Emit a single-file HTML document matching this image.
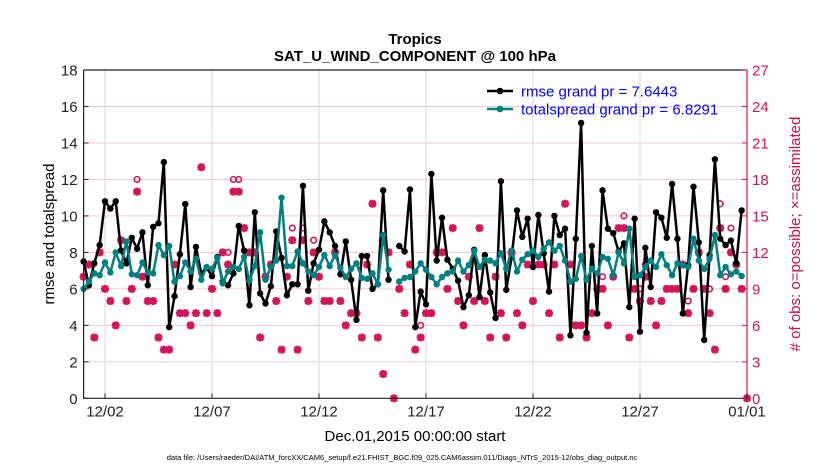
<!DOCTYPE html>
<html><head><meta charset="utf-8"><style>
body{margin:0;background:#fff;}
svg{display:block;font-family:"Liberation Sans",sans-serif;}
</style></head><body>
<svg id="chart" width="830" height="470" xmlns="http://www.w3.org/2000/svg">
<rect width="830" height="470" fill="#fff"/>
<text x="415" y="44" font-size="15" font-weight="bold" text-anchor="middle">Tropics</text>
<text x="415" y="61" font-size="15" font-weight="bold" text-anchor="middle">SAT_U_WIND_COMPONENT @ 100 hPa</text>
<g id="grid"></g>
<g id="marks"></g>
<g id="axes"></g>
<text transform="translate(54,234) rotate(-90)" font-size="15" text-anchor="middle">rmse and totalspread</text>
<text transform="translate(800,234) rotate(-90)" font-size="15" text-anchor="middle" fill="#c8104f"># of obs: o=possible; ×=assimilated</text>
<text x="415" y="441" font-size="15" text-anchor="middle">Dec.01,2015 00:00:00 start</text>
<text x="402" y="460" font-size="7.5" text-anchor="middle">data file: /Users/raeder/DAI/ATM_forcXX/CAM6_setup/f.e21.FHIST_BGC.f09_025.CAM6assim.011/Diags_NTrS_2015-12/obs_diag_output.nc</text>
<g>
<line x1="487" y1="91" x2="513" y2="91" stroke="#000" stroke-width="2.5"/><circle cx="500" cy="91" r="3.3" fill="#000"/>
<text x="521" y="96.5" font-size="15" fill="#0000ff">rmse grand pr = 7.6443</text>
<line x1="487" y1="109" x2="513" y2="109" stroke="#008080" stroke-width="2.5"/><circle cx="500" cy="109" r="3.3" fill="#008080"/>
<text x="521" y="114.5" font-size="15" fill="#0000ff">totalspread grand pr = 6.8291</text>
</g>
</svg>
<script>
const rmse=[7.5,6.2,7.4,8.4,10.8,10.4,10.8,8.1,7.4,8.8,8.2,9.1,6.2,9.4,9.6,12.95,3.9,5.6,7.9,10.65,6.1,8.3,6.85,7.15,6.7,7.75,6.4,6.2,6.85,9.45,8.1,5.1,10.2,5.75,5.2,6.15,9.15,7.7,5.65,6.25,6.25,11.65,
5.9,7.4,8.15,9.7,9.1,8.35,6.8,8.6,6.5,4.3,7.8,7.8,6.0,6.25,11.4,6.5,null,8.35,8.05,11.45,3.9,5.85,5.15,12.3,7.55,9.9,7.6,7.1,6.45,5.0,5.65,8.15,5.55,7.85,5.8,4.4,11.9,5.95,7.75,10.3,
8.85,9.85,7.2,10.05,7.95,5.85,10.0,8.95,9.3,3.45,8.75,15.1,3.6,8.35,4.65,11.4,9.3,9.05,8.05,8.5,5.0,9.85,3.65,8.25,6.1,10.2,9.9,8.8,11.75,8.75,4.65,7.3,11.6,8.55,3.2,7.85,13.1,8.75,8.4,8.65,7.4,10.3,null];
const spread=[6.0,6.4,6.85,6.75,7.45,6.9,8.0,7.25,8.6,6.8,6.75,7.45,6.9,6.85,8.4,7.85,8.35,6.4,6.7,7.45,6.95,7.65,6.5,7.2,7.1,7.7,6.3,6.95,7.2,7.1,7.75,6.45,7.25,9.1,6.5,7.2,7.55,11.0,7.25,7.25,8.05,7.4,
6.95,6.75,7.2,7.85,7.25,7.85,7.15,6.65,7.1,7.4,6.6,6.55,6.85,6.25,8.95,7.05,null,6.4,6.6,6.65,6.95,7.4,7.05,6.65,6.25,6.65,6.85,6.95,7.55,6.95,7.3,8.1,7.2,7.6,7.55,7.4,7.95,7.1,8.1,6.95,
7.6,7.9,8.1,7.75,8.2,8.55,8.1,8.35,7.55,6.4,6.55,7.8,6.5,7.1,6.85,7.75,7.65,6.75,8.0,7.4,9.3,6.65,6.75,7.2,7.55,7.2,7.9,7.3,6.75,7.4,7.3,7.2,8.75,7.55,7.1,7.65,8.95,6.75,7.2,6.8,6.95,6.7,null];
const obsAssim=[10,11,5,12,9,8,6,13,8,9,17,10,8,8,5,4,4,11,7,7,6,7,19,7,9,7,12,11,17,17,14,12,12,5,10,11,8,4,10,13,4,13,
8,12,10,8,8,12,8,6,7,7,5,11,16,5,2,12,0,9,7,11,4,5,7,7,12,12,9,14,8,6,10,8,14,8,5,10,7,5,12,7,
6,11,8,11,11,7,11,5,16,11,6,6,5,7,9,9,6,10,14,14,5,9,8,10,8,6,8,9,9,9,11,7,9,12,9,7,4,14,9,12,11,9,0];
const obsPoss=[10,11,5,12,9,8,6,13,8,9,18,10,8,8,5,4,4,11,7,7,6,7,19,7,9,7,12,12,18,18,14,12,12,5,10,11,8,4,10,14,4,14,
8,13,10,8,8,12,8,6,7,7,5,11,16,5,2,12,0,9,7,11,4,6,7,7,12,12,9,14,8,6,10,8,14,8,5,10,7,5,12,7,
6,11,8,11,11,7,11,5,16,11,6,6,5,7,9,10,6,10,14,15,5,9,9,11,8,6,8,9,9,9,11,8,9,12,9,9,4,16,10,14,11,9,0];
const dayTicks=[1,6,11,16,21,26,31];
const dayLabels=['12/02','12/07','12/12','12/17','12/22','12/27','01/01'];
const yTicks=[0,2,4,6,8,10,12,14,16,18];
const y2Ticks=[0,3,6,9,12,15,18,21,24,27];

const NS='http://www.w3.org/2000/svg';
const L=83.6,R=747,T=70,B=398.3;
const xDay=d=>L+(R-L)*d/31;
const xIdx=i=>xDay(i*0.25);
const yL=v=>B-(B-T)*v/18;
const yR=v=>B-(B-T)*v/27;
function mk(tag,attrs,parent){const e=document.createElementNS(NS,tag);for(const k in attrs)e.setAttribute(k,attrs[k]);parent.appendChild(e);return e;}
const grid=document.getElementById('grid'),marks=document.getElementById('marks'),axes=document.getElementById('axes');
const PINK='#d4145a';
yTicks.forEach(v=>{if(v>0&&v<18){const l=mk('line',{x1:L,x2:R,y1:yL(v),y2:yL(v),stroke:'#f2c9d6','stroke-width':1},grid);

}});
dayTicks.forEach(d=>{const l=mk('line',{x1:xDay(d),x2:xDay(d),y1:T,y2:B,stroke:'#d8d8d8','stroke-width':1},grid);

});
// obs markers
obsPoss.forEach((v,i)=>{if(v!==obsAssim[i]){const c=mk('circle',{cx:xIdx(i),cy:yR(v),r:2.8,fill:'none',stroke:PINK,'stroke-width':1.6},marks);

}});
obsAssim.forEach((v,i)=>{const x=xIdx(i),y=yR(v);const g=mk('g',{},marks);


mk('path',{d:`M${x-4},${y}H${x+4}M${x},${y-4}V${y+4}M${x-3},${y-3}L${x+3},${y+3}M${x-3},${y+3}L${x+3},${y-3}`,stroke:PINK,'stroke-width':2.4},g);});
function series(arr,color,name){let d='',pen=false;arr.forEach((v,i)=>{if(v==null){pen=false;return;}d+=(pen?'L':'M')+xIdx(i).toFixed(1)+','+yL(v).toFixed(1);pen=true;});
const p=mk('path',{d:d,fill:'none',stroke:color,'stroke-width':2.5,'stroke-linejoin':'round'},marks);


arr.forEach((v,i)=>{if(v==null)return;const c=mk('circle',{cx:xIdx(i),cy:yL(v),r:3.2,fill:color},marks);

});}
series(rmse,'#000','rmse');
series(spread,'#008080','totalspread');
// frame
mk('path',{d:`M${L},${T}H${R}M${L},${T}V${B}H${R}`,fill:'none',stroke:'#222','stroke-width':1.2},axes);
mk('line',{x1:R,x2:R,y1:T,y2:B,stroke:PINK,'stroke-width':1.2},axes);
yTicks.forEach(v=>{mk('line',{x1:L,x2:L+5,y1:yL(v),y2:yL(v),stroke:'#222'},axes);
const t=mk('text',{x:L-6,y:yL(v)+5.5,'font-size':15,'text-anchor':'end',fill:'#222'},axes);t.textContent=v;

});
y2Ticks.forEach(v=>{mk('line',{x1:R-5,x2:R,y1:yR(v),y2:yR(v),stroke:PINK},axes);
const t=mk('text',{x:R+5,y:yR(v)+5.5,'font-size':15,fill:PINK},axes);t.textContent=v;

});
dayTicks.forEach((d,k)=>{mk('line',{x1:xDay(d),x2:xDay(d),y1:B,y2:B-5,stroke:'#222'},axes);
const t=mk('text',{x:xDay(d),y:B+18,'font-size':15,'text-anchor':'middle',fill:'#222'},axes);t.textContent=dayLabels[k];

});
</script>
</body></html>
